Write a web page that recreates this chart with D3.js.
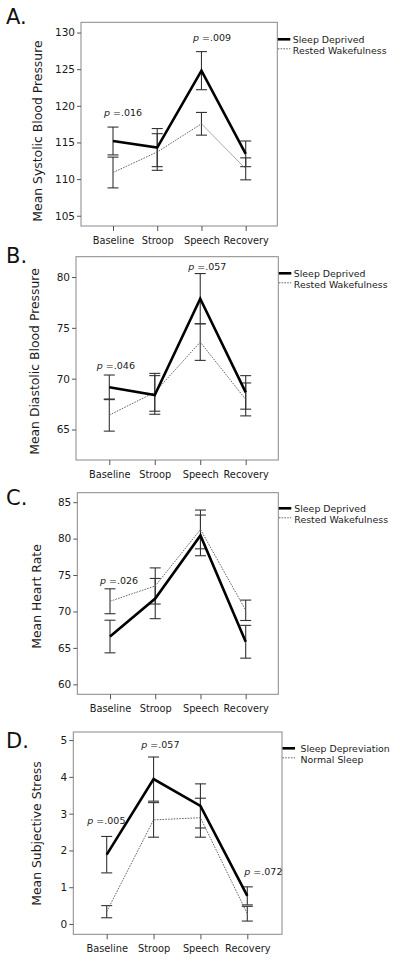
<!DOCTYPE html>
<html>
<head>
<meta charset="utf-8">
<script src="https://cdn.jsdelivr.net/npm/d3@7"></script>
<style>
  html, body { margin: 0; padding: 0; background: #fff; }
  svg { display: block; font-family: "DejaVu Sans", Verdana, sans-serif; }
</style>
</head>
<body>
<svg id="chart" width="400" height="962"></svg>
<script>
// ---------- data ----------
const categories = ["Baseline", "Stroop", "Speech", "Recovery"];

// Panel A: systolic blood pressure
const sbpDeprived    = [115.2, 114.3, 124.8, 113.45];
const sbpDeprivedErr = [1.9, 2.6, 2.6, 1.75];
const sbpRested      = [110.9, 113.7, 117.55, 111.4];
const sbpRestedErr   = [2.1, 2.5, 1.55, 1.5];
const sbpTicks       = [105, 110, 115, 120, 125, 130];
const sbpPValues     = [["Baseline", ".016"], ["Speech", ".009"]];

// Panel B: diastolic blood pressure
const dbpDeprived    = [69.15, 68.4, 77.87, 68.65];
const dbpDeprivedErr = [1.21, 1.9, 2.47, 1.65];
const dbpRested      = [66.42, 68.66, 73.6, 67.96];
const dbpRestedErr   = [1.58, 1.86, 1.8, 1.62];
const dbpTicks       = [65, 70, 75, 80];
const dbpPValues     = [["Baseline", ".046"], ["Speech", ".057"]];

// Panel C: heart rate
const hrDeprived     = [66.56, 71.77, 80.44, 65.84];
const hrDeprivedErr  = [2.24, 2.76, 2.79, 2.25];
const hrRested       = [71.4, 73.5, 81.26, 70.16];
const hrRestedErr    = [1.71, 2.48, 2.66, 1.4];
const hrTicks        = [60, 65, 70, 75, 80, 85];
const hrPValues      = [["Baseline", ".026"]];

// Panel D: subjective stress
const stressDeprived    = [1.885, 3.94, 3.21, 0.765];
const stressDeprivedErr = [0.495, 0.6, 0.6, 0.245];
const stressNormal      = [0.335, 2.83, 2.89, 0.28];
const stressNormalErr   = [0.165, 0.47, 0.53, 0.2];
const stressTicks       = [0, 1, 2, 3, 4, 5];
const stressPValues     = [["Baseline", ".005"], ["Stroop", ".057"], ["Recovery", ".072"]];

const legendAC = ["Sleep Deprived", "Rested Wakefulness"];
const legendD  = ["Sleep Depreviation", "Normal Sleep"];

// ---------- layout ----------
const panels = [
  { letter: "A.", title: "Mean Systolic Blood Pressure",
    a: sbpDeprived, aErr: sbpDeprivedErr, b: sbpRested, bErr: sbpRestedErr,
    ticks: sbpTicks, pv: sbpPValues, legend: legendAC,
    box: [81, 22.3, 277.3, 226], catX: [113, 245.7], ydom: [103.6, 131.4],
    letterY: 24, titleX: 37.5, titleY: 131, legY: 39.3, legText: 15.5,
    pOff: { "Baseline": [-9, 115.5], "Speech": [-8.5, 40.5] } },
  { letter: "B.", title: "Mean Diastolic Blood Pressure",
    a: dbpDeprived, aErr: dbpDeprivedErr, b: dbpRested, bErr: dbpRestedErr,
    ticks: dbpTicks, pv: dbpPValues, legend: legendAC,
    box: [76, 256.7, 278.3, 460], catX: [109.3, 245.7], ydom: [62.0, 82.0],
    letterY: 263, titleX: 34.5, titleY: 361.5, legY: 273.3, legText: 15.5,
    pOff: { "Baseline": [-12.5, 369], "Speech": [-12, 270] } },
  { letter: "C.", title: "Mean Heart Rate",
    a: hrDeprived, aErr: hrDeprivedErr, b: hrRested, bErr: hrRestedErr,
    ticks: hrTicks, pv: hrPValues, legend: legendAC,
    box: [77.3, 492.7, 278.3, 694.3], catX: [110, 245.7], ydom: [58.63, 86.3],
    letterY: 505, titleX: 37, titleY: 596.5, legY: 508.3, legText: 16,
    pOff: { "Baseline": [-10, 583.5] } },
  { letter: "D.", title: "Mean Subjective Stress",
    a: stressDeprived, aErr: stressDeprivedErr, b: stressNormal, bErr: stressNormalErr,
    ticks: stressTicks, pv: stressPValues, legend: legendD,
    box: [73.3, 732, 282, 934.3], catX: [106.7, 247.3], ydom: [-0.28, 5.22],
    letterY: 748, titleX: 37, titleY: 833.5, legY: 748.3, legText: 18.5,
    pOff: { "Baseline": [-19.4, 823.5], "Stroop": [-12.3, 747.5], "Recovery": [-3, 875] } }
];

const svg = d3.select("#chart");
const capHalf = 5.5;

panels.forEach(p => {
  const [bx0, by0, bx1, by1] = p.box;
  const x = d3.scalePoint().domain(categories).range(p.catX);
  const y = d3.scaleLinear().domain(p.ydom).range([by1, by0]);
  const g = svg.append("g");

  // panel letter
  g.append("text").attr("x", 6).attr("y", p.letterY)
    .attr("font-size", 21).attr("fill", "#111").text(p.letter);

  // box
  g.append("rect").attr("x", bx0).attr("y", by0)
    .attr("width", bx1 - bx0).attr("height", by1 - by0)
    .attr("fill", "none").attr("stroke", "#888").attr("stroke-width", 1);

  // y axis
  const ya = g.append("g").attr("transform", `translate(${bx0},0)`)
    .call(d3.axisLeft(y).tickValues(p.ticks).tickSize(4).tickPadding(2).tickFormat(d3.format("d")));
  ya.select(".domain").remove();
  ya.selectAll("line").attr("stroke", "#555");
  ya.selectAll("text").attr("font-size", 10.5).attr("fill", "#1a1a1a")
    .attr("font-family", "DejaVu Sans, sans-serif");

  // x axis
  const xa = g.append("g").attr("transform", `translate(0,${by1})`)
    .call(d3.axisBottom(x).tickSize(5).tickPadding(5.6));
  xa.select(".domain").remove();
  xa.selectAll("line").attr("stroke", "#555");
  xa.selectAll("text").attr("font-size", 9.8).attr("fill", "#1a1a1a")
    .attr("font-family", "DejaVu Sans, sans-serif");

  // y title
  g.append("text")
    .attr("transform", `translate(${p.titleX},${p.titleY}) rotate(-90)`)
    .attr("text-anchor", "middle").attr("dy", "0.35em")
    .attr("font-size", 12.4).attr("fill", "#1a1a1a").text(p.title);

  // error bars
  const drawErr = (vals, errs) => {
    const eg = g.append("g").attr("stroke", "#333").attr("stroke-width", 1.1);
    categories.forEach((c, i) => {
      const cx = x(c), top = y(vals[i] + errs[i]), bot = y(vals[i] - errs[i]);
      eg.append("line").attr("x1", cx).attr("x2", cx).attr("y1", top).attr("y2", bot);
      eg.append("line").attr("x1", cx - capHalf).attr("x2", cx + capHalf).attr("y1", top).attr("y2", top);
      eg.append("line").attr("x1", cx - capHalf).attr("x2", cx + capHalf).attr("y1", bot).attr("y2", bot);
    });
  };
  drawErr(p.a, p.aErr);
  drawErr(p.b, p.bErr);

  const line = d3.line().x((d, i) => x(categories[i])).y(d => y(d));
  g.append("path").datum(p.b).attr("d", line)
    .attr("fill", "none").attr("stroke", "#666").attr("stroke-width", 1)
    .attr("stroke-dasharray", "1.6,1.2");
  g.append("path").datum(p.a).attr("d", line)
    .attr("fill", "none").attr("stroke", "#000").attr("stroke-width", 2.6)
    .attr("stroke-linejoin", "miter");

  // p-value annotations
  p.pv.forEach(([cat, txt]) => {
    const [dx, ty] = p.pOff[cat];
    const t = g.append("text").attr("x", x(cat) + dx).attr("y", ty)
      .attr("font-size", 9.5).attr("fill", "#1a1a1a");
    t.append("tspan").attr("font-style", "italic").text("p");
    t.append("tspan").text(" =" + txt);
  });

  // legend
  const lg = g.append("g");
  lg.append("line").attr("x1", bx1 + 0.5).attr("x2", bx1 + 13)
    .attr("y1", p.legY).attr("y2", p.legY).attr("stroke", "#000").attr("stroke-width", 2.6);
  lg.append("line").attr("x1", bx1 + 0.5).attr("x2", bx1 + 13)
    .attr("y1", p.legY + 9.5).attr("y2", p.legY + 9.5)
    .attr("stroke", "#666").attr("stroke-width", 1).attr("stroke-dasharray", "1.6,1.2");
  p.legend.forEach((name, i) => {
    lg.append("text").attr("x", bx1 + p.legText).attr("y", p.legY + i * 11 + 3.5)
      .attr("font-size", 9.4).attr("fill", "#1a1a1a").text(name);
  });
});
</script>
</body>
</html>
